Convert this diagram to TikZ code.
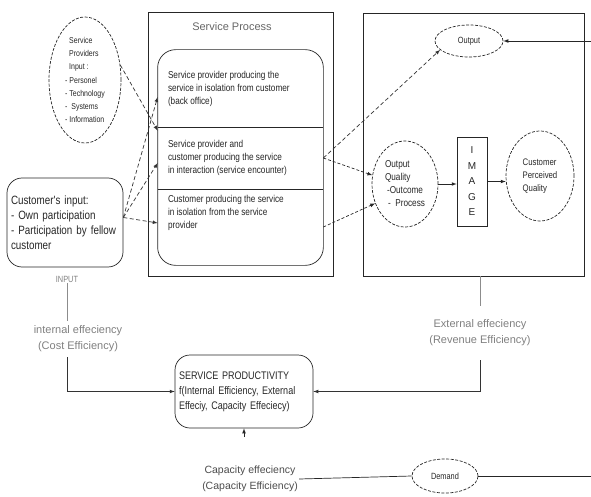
\documentclass[tikz,border=0pt]{standalone}
\usepackage{fontspec}
\setmainfont{Liberation Sans}
\newfontfamily\narrowfont[FakeStretch=0.82]{Liberation Sans}
\usepackage{tikz}
\usetikzlibrary{arrows}
\usetikzlibrary{shapes.geometric}
\usetikzlibrary{positioning}
\tikzset{dashell/.style={ellipse,draw=black!85,dash pattern=on 3pt off 1.5pt,inner sep=0pt,text=black!85,align=left,font=\narrowfont\fontsize{9.5}{13}\selectfont}}
\tikzset{roundbox/.style={rectangle,rounded corners=15pt,draw=black!85,inner sep=3pt,align=left,text=black!85}}
\tikzset{plainbox/.style={rectangle,draw=black!85,inner sep=0pt}}
\tikzset{comptext/.style={align=left,inner sep=0pt,text=black!85,font=\narrowfont\fontsize{10}{13}\selectfont}}
\tikzset{graytext/.style={align=center,inner sep=1pt,text=black!50,font=\fontsize{11}{16}\selectfont}}
\tikzset{dasharrow/.style={->,dash pattern=on 4pt off 2.5pt,draw=black!80}}

\begin{document}
\begin{tikzpicture}[x=1pt,y=-1pt,line width=0.7pt,>=latex]
\useasboundingbox (0,0) rectangle (591,497);

% inputs
\node[dashell,minimum width=72,minimum height=126,font=\narrowfont\fontsize{8.5}{13.3}\selectfont] (prov) at (85,80) {\hspace*{4pt}Service\\\hspace*{4pt}Providers\\\hspace*{4pt}Input :\\- Personel\\- Technology\\- \ Systems\\- Information};
\node[roundbox,minimum width=116,minimum height=89,text width=108,font=\narrowfont\fontsize{12}{15}\selectfont] (cust) at (65,222.5) {Customer's input:\\- Own participation\\- Participation by fellow\\customer};
\node[graytext,font=\narrowfont\fontsize{9}{11}\selectfont] (input) at (67,279) {INPUT};

% service process
\node[plainbox,minimum width=185,minimum height=264] (proc) at (240.5,144) {};
\node[graytext,text=black!60] (proctitle) at (232,27) {Service Process};
\node[minimum width=165,minimum height=77,inner sep=0pt] (comp1) at (240.5,88.5) {};
\node[minimum width=165,minimum height=62,inner sep=0pt] (comp2) at (240.5,158) {};
\node[minimum width=165,minimum height=76,inner sep=0pt] (comp3) at (240.5,227) {};
\draw[black!85,rounded corners=18pt] (comp1.north west) rectangle (comp3.south east);
\foreach \i in {1,2} {
	\draw[black!85] (comp\i.south west) -- (comp\i.south east);
}
\node[comptext,anchor=west] (t1) at ([xshift=10pt]comp1.west) {Service provider producing the\\service in isolation from customer\\(back office)};
\node[comptext,anchor=west] (t2) at ([xshift=10pt]comp2.west) {Service provider and\\customer producing the service\\in interaction (service encounter)};
\node[comptext,anchor=north west] (t3) at ([xshift=10pt,yshift=-6pt]comp3.north west) {Customer producing the service\\in isolation from the service\\provider};

% output side
\node[plainbox,minimum width=221,minimum height=263] (outbox) at (473.5,144.5) {};
\node[dashell,minimum width=68,minimum height=32,align=center,font=\narrowfont\fontsize{9}{11}\selectfont] (output) at (469,41) {Output};
\node[dashell,minimum width=66,minimum height=86,font=\narrowfont\fontsize{10}{13}\selectfont] (outqual) at (405,184) {Output\\Quality\\\hspace*{2pt}-Outcome\\\hspace*{3pt}- \ Process};
\node[plainbox,minimum width=30,minimum height=89,align=center,text=black!85,font=\fontsize{10}{15.5}\selectfont] (image) at (472,181.5) {I\\M\\A\\G\\E};
\node[dashell,minimum width=68,minimum height=90] (cpq) at (540,176) {Customer\\Perceived\\Quality};
\coordinate (outedge) at (591,41);

% productivity
\node[roundbox,minimum width=138,minimum height=73,text width=130,inner sep=4pt,font=\narrowfont\fontsize{11}{15}\selectfont] (sp) at (244,391.5) {SERVICE PRODUCTIVITY\\f(Internal Efficiency, External\\Effeciy, Capacity Effeciecy)};
\node[graytext,inner ysep=5pt] (inteff) at (78,339) {internal effeciency\\(Cost Efficiency)};
\node[graytext,inner ysep=14pt] (exteff) at (480,333) {External effeciency\\(Revenue Efficiency)};
\node[graytext,text=black!70,font=\fontsize{10.5}{16}\selectfont] (capeff) at (250,479) {Capacity effeciency\\(Capacity Efficiency)};
\node[dashell,minimum width=66,minimum height=34,align=center,font=\narrowfont\fontsize{9}{11}\selectfont] (demand) at (445,476) {Demand};
\coordinate (demedge) at (591,476);
\coordinate (capin) at (244,437);

% arrows into the process
\draw[dasharrow] (prov.23) -- ([yshift=-4pt]comp2.north west);
\foreach \c / \s in {1/-8.5,2/-5,3/4} {
	\draw[dasharrow] ([yshift=5pt]cust.east) -- ([yshift=\s pt]comp\c.west);
}
% arrows out of the process
\draw[dasharrow] (comp2.east) -- (output.197);
\draw[->,densely dashed,black!85] (comp2.east) -- (outqual.165);
\draw[->,densely dashed,black!85] (comp3.east) -- (outqual.213);
\draw[->,black!85] (outqual.east) -- (image.west |- outqual.east);
\draw[->,black!85] (image.east) -- (image.east -| cpq.west);
\draw[->,black!85] (outedge) -- (output.east);

% efficiencies
\draw[black!45] (input) -- (input |- inteff.north);
\draw[->,black!80] (input |- inteff.south) |- (sp.west);
\draw[black!45] (outbox.south -| exteff.north) -- (exteff.north);
\draw[->,black!80] (exteff.south) |- (sp.east);
\draw[->,black!85] (capin) -- (sp.south);
\draw[black!85] (capeff.east) -- (demand.west);
\draw[black!85] (demand.east) -- (demedge);
\end{tikzpicture}
\end{document}
